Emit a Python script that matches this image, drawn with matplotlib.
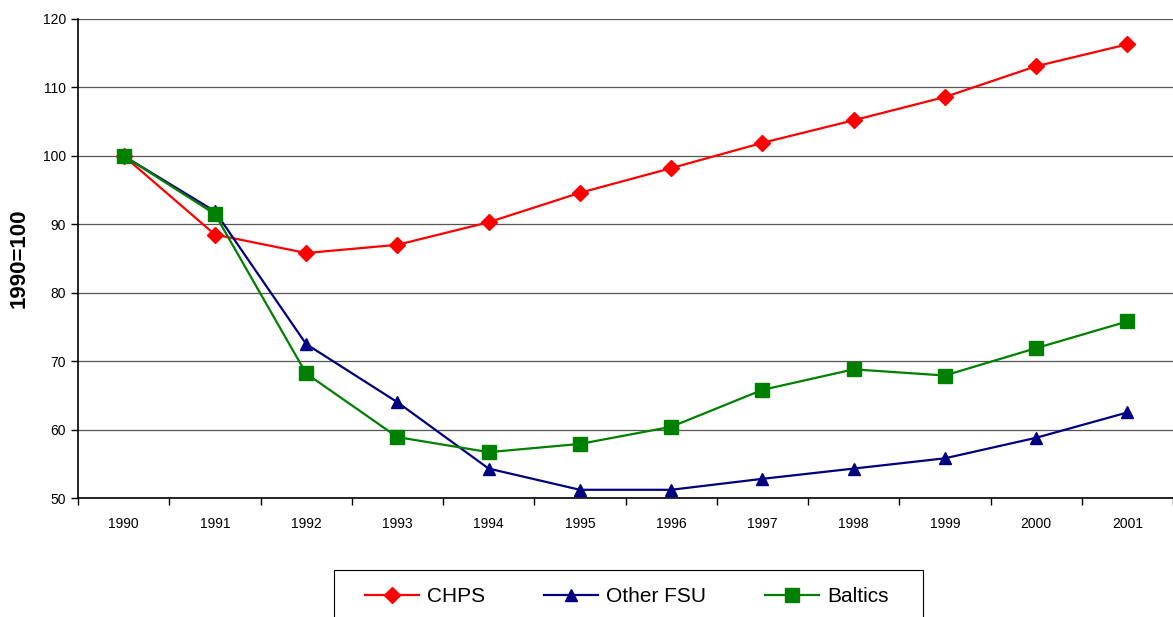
import numpy as np
import matplotlib.pyplot as plt
from matplotlib.patches import Rectangle

plt.rcParams['font.family'] = ['Liberation Sans', 'DejaVu Sans']

years = ["1990", "1991", "1992", "1993", "1994", "1995", "1996", "1997", "1998", "1999", "2000", "2001"]
chps = [100, 88.5, 85.8, 87.0, 90.3, 94.6, 98.2, 101.9, 105.2, 108.6, 113.1, 116.3]
other_fsu = [100, 91.9, 72.5, 64.0, 54.3, 51.2, 51.2, 52.8, 54.3, 55.8, 58.8, 62.5]
baltics = [100, 91.5, 68.2, 58.9, 56.7, 57.9, 60.4, 65.8, 68.8, 67.9, 71.9, 75.8]

W, H = 1173, 617
fig = plt.figure(figsize=(W/100, H/100), dpi=100)
ax = fig.add_axes([78/W, 119/H, 1 - 78/W, 479/H])

x = np.arange(len(years))
ax.plot(x, chps, color="#FF0000", lw=1.6, marker="D", ms=8, label="CHPS", zorder=3)
ax.plot(x, other_fsu, color="#000080", lw=1.6, marker="^", ms=9, label="Other FSU", zorder=3)
ax.plot(x, baltics, color="#008000", lw=1.6, marker="s", ms=10, label="Baltics", zorder=4)

ax.set_xlim(-0.5, len(years) - 0.5)
ax.set_ylim(50, 120)
ax.set_yticks(np.arange(50, 121, 10))
ax.yaxis.grid(True, color="#555555", lw=0.9)
ax.set_axisbelow(True)

# category ticks between years, labels centered
ax.set_xticks(np.arange(-0.5, len(years), 1))
ax.set_xticklabels([])
ax.set_xticks(x, minor=True)
ax.set_xticklabels(years, minor=True)
ax.tick_params(axis="x", which="major", length=5, width=1, direction="out")
ax.tick_params(axis="x", which="minor", length=0, pad=14, labelsize=10)
ax.tick_params(axis="y", length=5, width=1, labelsize=10)

for s in ["top", "right"]:
    ax.spines[s].set_visible(False)
ax.spines["left"].set_linewidth(1.2)
ax.spines["bottom"].set_linewidth(1.2)

ax.set_ylabel("1990=100", fontsize=16, fontweight="bold")
ax.yaxis.set_label_coords(-48/1095, (498 - 258)/479)

# legend, box runs off the bottom edge like the original
fig.legend(loc="center left", bbox_to_anchor=(365/W, (617 - 597)/H), ncol=3,
           fontsize=15, frameon=False, borderpad=0, borderaxespad=0,
           handlelength=2.6, columnspacing=2.8, handletextpad=0.4)
fig.patches.append(Rectangle((334/W, -0.05), (923 - 334)/W, 0.05 + 47/H,
                             transform=fig.transFigure, fill=False,
                             edgecolor="black", lw=0.8))

fig.savefig("out.png", dpi=100)
